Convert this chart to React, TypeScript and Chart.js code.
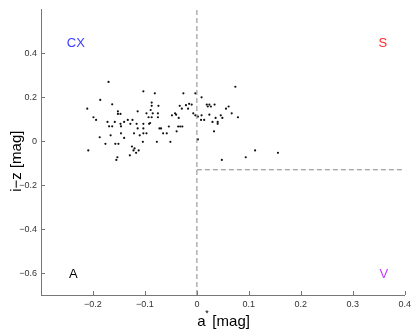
import React, { useEffect, useRef } from "react";
import { Chart, registerables } from "chart.js";

Chart.register(...registerables);

const pointsX = [
  -0.170, -0.211, -0.186, -0.163, -0.199, -0.194, -0.152, -0.152, -0.147, -0.114,
  -0.103, -0.081, -0.087, -0.074, -0.087, -0.089, -0.085, -0.075, -0.097, -0.093,
  -0.075, -0.087, -0.124, -0.133, -0.140, -0.172, -0.158, -0.147, -0.146, -0.169,
  -0.163, -0.128, -0.116, -0.103, -0.092, -0.090, -0.114, -0.103, -0.146, -0.166,
  -0.187, -0.176, -0.157, -0.151, -0.140, -0.121, -0.103, -0.097, -0.110, -0.104,
  -0.125, -0.120, -0.112, -0.122, -0.117, -0.129, -0.155, -0.153, -0.209, -0.077,
  -0.072, -0.069, -0.065, -0.058, -0.054, -0.051, -0.048, -0.042, -0.040, -0.033,
  -0.035, -0.036, -0.032, -0.028, -0.039, -0.029, -0.026, -0.021, -0.017, -0.015,
  -0.010, -0.003, -0.007, -0.003, 0.002, 0.002, 0.009, 0.009, 0.014, 0.008,
  0.019, 0.024, 0.021, 0.027, 0.034, 0.024, 0.036, 0.030, 0.040, 0.040,
  0.033, 0.046, 0.049, 0.056, 0.061, 0.067, 0.074, 0.079, 0.048, 0.094,
  0.112, 0.156,
];
const pointsY = [
  0.270, 0.148, 0.188, 0.168, 0.109, 0.097, 0.136, 0.124, 0.124, 0.136,
  0.227, 0.218, 0.176, 0.161, 0.161, 0.142, 0.127, 0.127, 0.127, 0.109,
  0.109, 0.109, 0.097, 0.097, 0.088, 0.088, 0.088, 0.079, 0.068, 0.068,
  0.068, 0.079, 0.079, 0.079, 0.079, 0.083, 0.058, 0.058, 0.036, 0.027,
  0.018, -0.012, -0.012, -0.012, 0.015, 0.036, 0.036, 0.036, 0.027, -0.003,
  -0.024, -0.033, -0.042, -0.042, -0.053, -0.064, -0.085, -0.073, -0.042, -0.003,
  0.058, 0.058, 0.036, 0.036, 0.067, -0.003, 0.118, 0.127, 0.121, 0.161,
  0.106, 0.067, 0.067, 0.067, 0.045, 0.148, 0.218, 0.164, 0.148, 0.170,
  0.167, 0.218, 0.127, 0.118, 0.112, 0.008, 0.200, 0.118, 0.097, 0.097,
  0.167, 0.167, 0.158, 0.158, 0.167, 0.121, 0.106, 0.088, 0.088, 0.079,
  0.045, 0.118, 0.106, 0.148, 0.158, 0.127, 0.248, 0.109, -0.085, -0.073,
  -0.042, -0.053,
];

const xTicks = [-0.2, -0.1, 0, 0.1, 0.2, 0.3, 0.4];
const yTicks = [-0.6, -0.4, -0.2, 0, 0.2, 0.4];
const xRange = [-0.3, 0.4];
const yRange = [-0.7, 0.6];

const vLineX = [0, 0];
const vLineY = [-0.7, 0.6];
const hLineX = [0, 0.4];
const hLineY = [-0.13, -0.13];

const regionLabels = ["CX", "S", "A", "V"];
const regionX = [-0.233, 0.358, -0.238, 0.36];
const regionY = [0.445, 0.445, -0.607, -0.607];
const regionColors = ["#3a3aff", "#ff2a2a", "#000000", "#c23cff"];

const xTitleMain = "a";
const xTitleSup = "*";
const xTitleUnit = "[mag]";
const yTitle = "i\u2212z [mag]";

const FONT = "'Liberation Sans', Arial, Helvetica, sans-serif";

function fmt(v: number): string {
  if (Math.abs(v) < 1e-9) return "0";
  const s = Math.abs(v).toFixed(1);
  return (v < 0 ? "\u2212" : "") + s;
}

const overlayPlugin = {
  id: "overlay",
  afterDraw(chart: any) {
    const ctx = chart.ctx;
    const xs = chart.scales.x;
    const ys = chart.scales.y;
    const area = chart.chartArea;
    ctx.save();
    // inward tick marks
    ctx.strokeStyle = "#777777";
    ctx.lineWidth = 1;
    ctx.beginPath();
    xTicks.forEach((v) => {
      const px = Math.round(xs.getPixelForValue(v)) + 0.5;
      ctx.moveTo(px, area.bottom);
      ctx.lineTo(px, area.bottom - 4);
    });
    yTicks.forEach((v) => {
      const py = Math.round(ys.getPixelForValue(v)) + 0.5;
      ctx.moveTo(area.left, py);
      ctx.lineTo(area.left + 4, py);
    });
    ctx.stroke();

    // region labels
    ctx.font = `13px ${FONT}`;
    ctx.textAlign = "center";
    ctx.textBaseline = "middle";
    regionLabels.forEach((t, i) => {
      ctx.fillStyle = regionColors[i];
      ctx.fillText(t, xs.getPixelForValue(regionX[i]), ys.getPixelForValue(regionY[i]));
    });

    // x axis title
    ctx.fillStyle = "#000000";
    ctx.textAlign = "left";
    ctx.textBaseline = "alphabetic";
    const cx = (area.left + area.right) / 2;
    const baseY = area.bottom + 31;
    ctx.font = `15px ${FONT}`;
    ctx.fillText(xTitleMain, cx - 25.5, baseY);
    ctx.font = `9px ${FONT}`;
    ctx.fillText(xTitleSup, cx - 17.5, baseY - 10);
    ctx.font = `15px ${FONT}`;
    ctx.fillText(xTitleUnit, cx - 10.5, baseY);

    // y axis title
    ctx.translate(21, (area.top + area.bottom) / 2 + 9);
    ctx.rotate(-Math.PI / 2);
    ctx.textAlign = "center";
    ctx.font = `15px ${FONT}`;
    ctx.fillText(yTitle, 0, 0);
    ctx.restore();
  },
};

export default function App() {
  const ref = useRef<HTMLCanvasElement | null>(null);
  useEffect(() => {
    document.body.style.margin = "0";
    const canvas = ref.current;
    if (!canvas) return;
    const dashStyle = {
      type: "line" as const,
      borderColor: "#888888",
      borderWidth: 1,
      borderDash: [5, 3],
      pointRadius: 0,
      showLine: true,
      fill: false,
    };
    const chart = new Chart(canvas, {
      type: "scatter",
      data: {
        datasets: [
          {
            ...dashStyle,
            data: vLineX.map((x, i) => ({ x, y: vLineY[i] })),
          } as any,
          {
            ...dashStyle,
            data: hLineX.map((x, i) => ({ x, y: hLineY[i] })),
          } as any,
          {
            data: pointsX.map((x, i) => ({ x, y: pointsY[i] })),
            backgroundColor: "#111111",
            borderWidth: 0,
            pointRadius: 1.1,
          },
        ],
      },
      options: {
        animation: false,
        responsive: false,
        devicePixelRatio: 1,
        layout: { padding: { top: 8, right: 9, left: 0, bottom: 0 } },
        plugins: {
          legend: { display: false },
          tooltip: { enabled: false },
        },
        scales: {
          x: {
            type: "linear",
            min: xRange[0],
            max: xRange[1],
            afterBuildTicks: (s: any) => {
              s.ticks = xTicks.map((v) => ({ value: v }));
            },
            afterFit: (s: any) => {
              s.height = 35;
            },
            grid: { display: false, drawTicks: false },
            border: { display: true, color: "#777777", width: 1 },
            ticks: {
              padding: 4,
              color: "#333333",
              font: { family: FONT, size: 9 },
              maxRotation: 0,
              callback: (v: any) => fmt(Number(v)),
            },
          },
          y: {
            type: "linear",
            min: yRange[0],
            max: yRange[1],
            afterBuildTicks: (s: any) => {
              s.ticks = yTicks.map((v) => ({ value: v }));
            },
            afterFit: (s: any) => {
              s.width = 41;
            },
            grid: { display: false, drawTicks: false },
            border: { display: true, color: "#777777", width: 1 },
            ticks: {
              padding: 4,
              color: "#333333",
              font: { family: FONT, size: 9 },
              callback: (v: any) => fmt(Number(v)),
            },
          },
        },
      },
      plugins: [overlayPlugin],
    });
    return () => chart.destroy();
  }, []);
  return (
    <div style={{ width: 415, height: 330 }}>
      <canvas ref={ref} width={415} height={330} style={{ display: "block" }} />
    </div>
  );
}
